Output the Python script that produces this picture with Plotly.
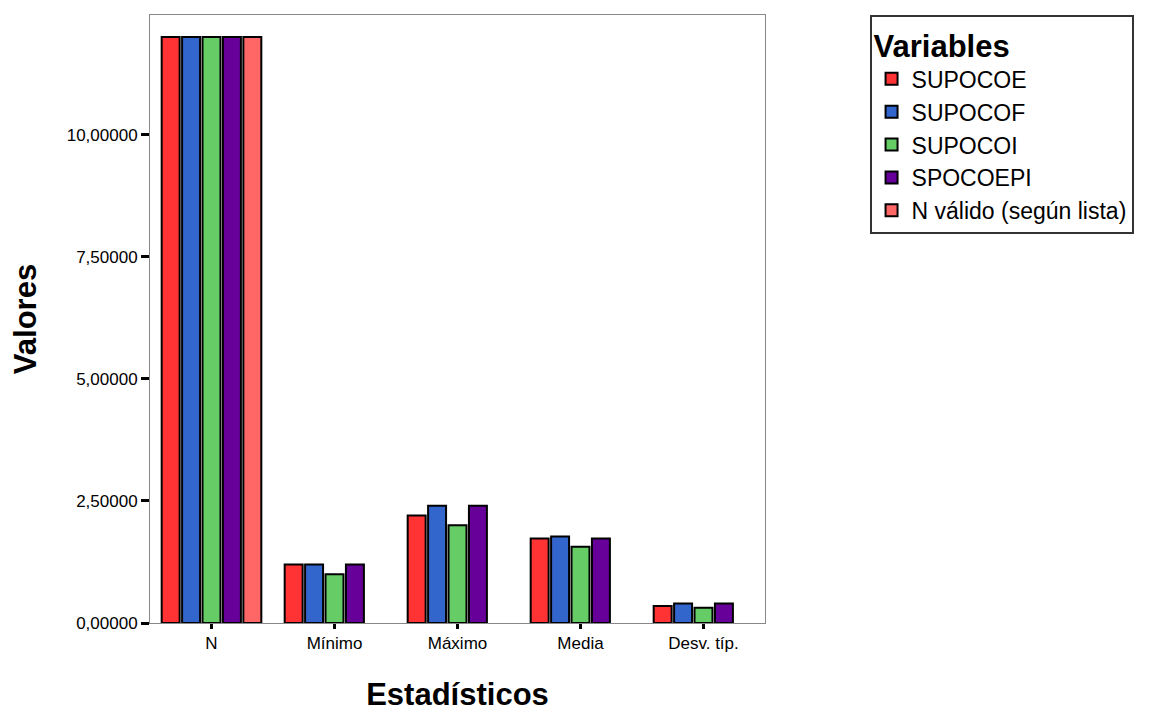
import plotly.graph_objects as go

categories = ["N", "Mínimo", "Máximo", "Media", "Desv. típ."]
series_names = ["SUPOCOE", "SUPOCOF", "SUPOCOI", "SPOCOEPI", "N válido (según lista)"]
supocoe = [12, 1.2, 2.2, 1.73, 0.35]
supocof = [12, 1.2, 2.4, 1.77, 0.40]
supocoi = [12, 1.0, 2.0, 1.56, 0.31]
spocoepi = [12, 1.2, 2.4, 1.73, 0.40]
n_valido = [12, None, None, None, None]
colors = ["#FF3333", "#3366CC", "#66CC66", "#660099", "#FF6666"]
y_ticks = [0, 2.5, 5, 7.5, 10]

fig = go.Figure()
for i, (name, vals) in enumerate(zip(series_names, [supocoe, supocof, supocoi, spocoepi, n_valido])):
    fig.add_trace(go.Bar(
        x=categories, y=vals, name=name, legendgroup=name,
        marker=dict(color=colors[i], line=dict(color="black", width=2)),
    ))

fig.update_layout(
    width=1143, height=705,
    paper_bgcolor="white", plot_bgcolor="white",
    margin=dict(l=142, r=386, t=7, b=90),
    barmode="group", bargap=0.17, bargroupgap=0.12,
    separators=",.",
    font=dict(family="Arial, Liberation Sans, sans-serif", color="black"),
    showlegend=True,
    legend=dict(
        title=dict(text="<b>Variables</b>", font=dict(size=31)),
        font=dict(size=23),
        x=1.17, y=1, xanchor="left", yanchor="top",
        bordercolor="#333333", borderwidth=2, bgcolor="white",
        tracegroupgap=9, traceorder="normal",
    ),
    xaxis=dict(
        title=dict(text="<b>Estadísticos</b>", font=dict(size=31), standoff=30),
        showline=True, linecolor="#888888", linewidth=1, mirror=True,
        ticks="outside", ticklen=5, tickwidth=3, tickcolor="black",
        tickfont=dict(size=17), range=[-0.5, 4.5],
    ),
    yaxis=dict(
        title=dict(text="<b>Valores</b>", font=dict(size=31), standoff=22),
        showline=True, linecolor="#888888", linewidth=1, mirror=True,
        ticks="outside", ticklen=8, tickwidth=3, tickcolor="black",
        tickvals=y_ticks, tickformat=".5f", tickfont=dict(size=17),
        range=[0, 12.45], showgrid=False, zeroline=False,
    ),
)

fig.write_html("out.html")
